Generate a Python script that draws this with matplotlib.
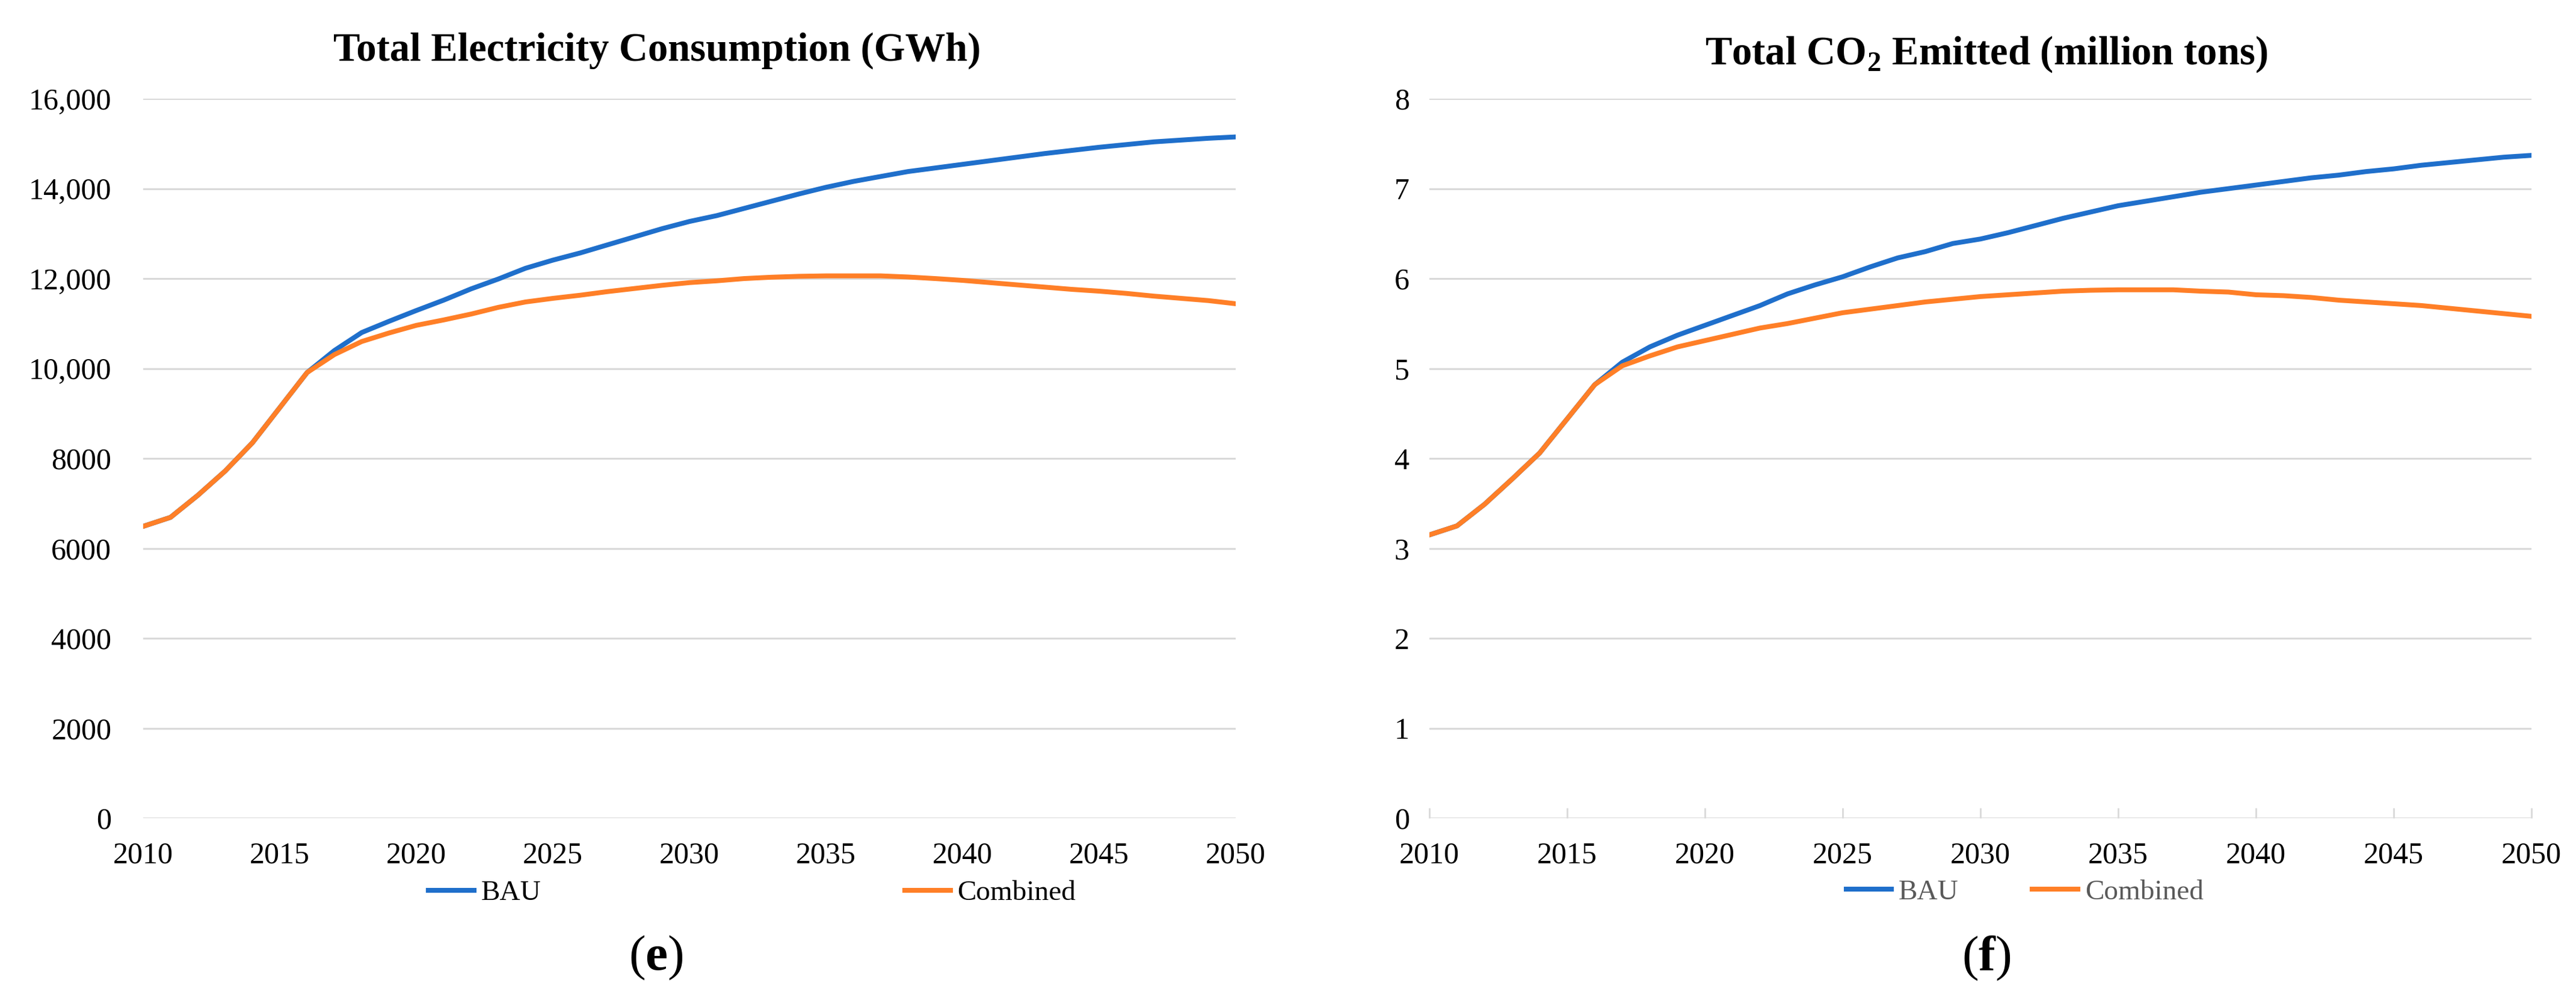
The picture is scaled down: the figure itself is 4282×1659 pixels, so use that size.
import numpy as np
import matplotlib
matplotlib.use("Agg")
import matplotlib.pyplot as plt

plt.rcParams['font.family'] = ['Liberation Serif', 'DejaVu Serif']
plt.rcParams['mathtext.fontset'] = 'custom'
plt.rcParams['mathtext.rm'] = 'Liberation Serif'
plt.rcParams['mathtext.bf'] = 'Liberation Serif:bold'

years = np.arange(2010, 2051)

# electricity consumption, GWh
elec_bau = [6490, 6690, 7180, 7720, 8350, 9130, 9910, 10400, 10800, 11050,
            11290, 11520, 11770, 11990, 12230, 12410, 12570, 12750, 12930, 13110,
            13270, 13400, 13560, 13720, 13880, 14030, 14160, 14270, 14380, 14460,
            14540, 14620, 14700, 14780, 14850, 14920, 14980, 15040, 15080, 15120,
            15150]
elec_comb = [6490, 6690, 7180, 7720, 8350, 9130, 9910, 10310, 10600, 10790,
             10960, 11080, 11210, 11360, 11480, 11560, 11630, 11710, 11780, 11850,
             11910, 11950, 12000, 12030, 12050, 12060, 12060, 12060, 12035, 12000,
             11960, 11910, 11860, 11810, 11760, 11720, 11670, 11610, 11560, 11510,
             11440]

# CO2 emitted, million tons
co2_bau = [3.15, 3.25, 3.49, 3.77, 4.06, 4.44, 4.82, 5.07, 5.24, 5.37,
           5.48, 5.59, 5.70, 5.83, 5.93, 6.02, 6.13, 6.23, 6.30, 6.39,
           6.44, 6.51, 6.59, 6.67, 6.74, 6.81, 6.86, 6.91, 6.96, 7.00,
           7.04, 7.08, 7.12, 7.15, 7.19, 7.22, 7.26, 7.29, 7.32, 7.35,
           7.37]
co2_comb = [3.15, 3.25, 3.49, 3.77, 4.06, 4.44, 4.82, 5.03, 5.14, 5.24,
            5.31, 5.38, 5.45, 5.50, 5.56, 5.62, 5.66, 5.70, 5.74, 5.77,
            5.80, 5.82, 5.84, 5.86, 5.87, 5.875, 5.875, 5.875, 5.86, 5.85,
            5.82, 5.81, 5.79, 5.76, 5.74, 5.72, 5.70, 5.67, 5.64, 5.61,
            5.58]

x_ticks = np.arange(2010, 2051, 5)
elec_ticks = np.arange(0, 16001, 2000)
elec_labels = ['0', '2000', '4000', '6000', '8000', '10,000', '12,000', '14,000', '16,000']
co2_ticks = np.arange(0, 9, 1)

BLUE = '#1F6FCB'
ORANGE = '#FF7F27'
GRID = '#D9D9D9'

fig = plt.figure(figsize=(42.82, 16.59), dpi=100)
ax1 = fig.add_axes([0.0556, 0.1802, 0.4241, 0.7209])
ax2 = fig.add_axes([0.5549, 0.1802, 0.4278, 0.7209])


def style(ax, yticks, ylabels, ytop, xticks_in):
    ax.set_xlim(2010, 2050)
    ax.set_ylim(0, ytop)
    ax.set_xticks(x_ticks)
    ax.set_yticks(yticks)
    ax.set_yticklabels(ylabels)
    ax.grid(axis='y', color=GRID, lw=2.2)
    ax.set_axisbelow(True)
    for s in ax.spines.values():
        s.set_visible(False)
    ax.tick_params(axis='y', length=0, labelsize=36, pad=38)
    if xticks_in:
        ax.tick_params(axis='x', direction='in', length=12, width=2, color=GRID,
                       labelsize=36, pad=28)
    else:
        ax.tick_params(axis='x', length=0, labelsize=36, pad=28)


ax1.plot(years, elec_bau, color=BLUE, lw=5.8, label='BAU')
ax1.plot(years, elec_comb, color=ORANGE, lw=5.8, label='Combined')
style(ax1, elec_ticks, elec_labels, 16000, False)

ax2.plot(years, co2_bau, color=BLUE, lw=5.8, label='BAU')
ax2.plot(years, co2_comb, color=ORANGE, lw=5.8, label='Combined')
style(ax2, co2_ticks, [str(v) for v in co2_ticks], 8, True)
ax2.tick_params(axis='y', pad=24)

leg1 = ax1.legend(loc='center', bbox_to_anchor=(0.292, 0.105), bbox_transform=fig.transFigure,
                  ncol=2, frameon=False, fontsize=34, handlelength=1.6, handletextpad=0.25,
                  columnspacing=12.8)
leg2 = ax2.legend(loc='center', bbox_to_anchor=(0.786, 0.106), bbox_transform=fig.transFigure,
                  ncol=2, frameon=False, fontsize=34, handlelength=1.6, handletextpad=0.25,
                  columnspacing=2.6)
for t in leg2.get_texts():
    t.set_color('#595959')

fig.text(0.255, 0.949, 'Total Electricity Consumption (GWh)', ha='center', va='center',
         fontsize=48, fontweight='bold')
fig.text(0.771, 0.946, r'Total CO$_\mathbf{2}$ Emitted (million tons)', ha='center', va='center',
         fontsize=48, fontweight='bold')

fig.text(0.2546, 0.040, r'($\mathbf{e}$)', ha='center', va='center', fontsize=60)
fig.text(0.771, 0.040, r'($\mathbf{f}$)', ha='center', va='center', fontsize=60)

fig.savefig('out.png', dpi=100)
